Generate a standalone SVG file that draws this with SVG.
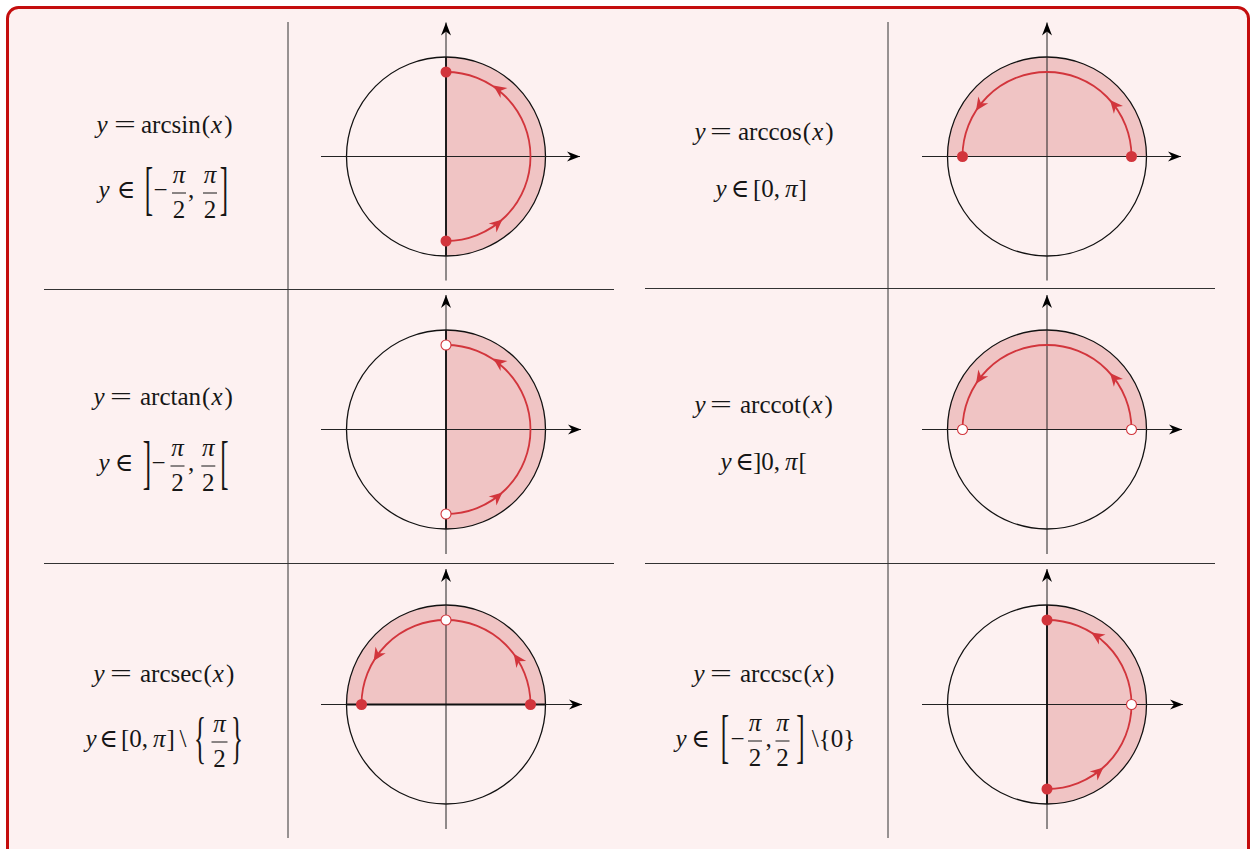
<svg xmlns="http://www.w3.org/2000/svg" width="1251" height="849" viewBox="0 0 1251 849">
<defs>
<style>
.tx{font-family:"Liberation Serif","DejaVu Serif",serif;font-size:25px;fill:#161616}
.it{font-style:italic}
.m{text-anchor:middle}
.bar{stroke:#161616;stroke-width:1}
.grid{stroke:#333;stroke-width:1}
.sec{fill:#f0c4c4}
.circ{fill:none;stroke:#111;stroke-width:1.3}
.ax{stroke:#222;stroke-width:1;marker-end:url(#axh)}
.dia{stroke:#111;stroke-width:1.8}
.arc{fill:none;stroke:#d2353c;stroke-width:1.8}
.dot{fill:#d2353c}
.odot{fill:#fff;stroke:#d2353c;stroke-width:1.1}
</style>
<marker id="axh" viewBox="-14 -6 15 12" refX="0" refY="0" markerWidth="15" markerHeight="12" markerUnits="userSpaceOnUse" orient="auto"><path d="M0,0 L-13,-5 L-9,0 L-13,5 Z" fill="#000"/></marker>
<path id="rah" d="M2,0 L-11,-6 L-7,0 L-11,6 Z" fill="#d2353c"/>
</defs>
<rect id="frame" x="7.5" y="7.5" width="1241" height="900" rx="11" fill="#fdf1f1" stroke="#c40d0d" stroke-width="3"/>

<g id="table-lines">
<line class="grid" x1="288" y1="22" x2="288" y2="838"/>
<line class="grid" x1="44" y1="289.5" x2="614" y2="289.5"/>
<line class="grid" x1="44" y1="563.5" x2="614" y2="563.5"/>
<line class="grid" x1="888" y1="22" x2="888" y2="838"/>
<line class="grid" x1="645" y1="288.5" x2="1215" y2="288.5"/>
<line class="grid" x1="645" y1="563.5" x2="1215" y2="563.5"/>
</g>

<!-- arcsin -->
<g id="arcsin-label">
<text class="tx it m" x="102" y="133">y</text>
<text class="tx m" transform="translate(125,133) scale(1.55,1)">=</text>
<text class="tx" x="141" y="133">arcsin<tspan dx="1">(</tspan><tspan class="it" dx="1">x</tspan><tspan dx="2">)</tspan></text>
<text class="tx it m" x="104" y="198">y</text>
<text class="tx m" x="126" y="198">∈</text>
<text class="tx m" transform="translate(149,207.5) scale(1,2.38)">[</text>
<text class="tx m" x="160.5" y="198">−</text>
<text class="tx it m" x="179" y="182.5">π</text>
<line class="bar" x1="172" y1="193" x2="186" y2="193"/>
<text class="tx m" x="179" y="218">2</text>
<text class="tx m" x="191" y="198">,</text>
<text class="tx it m" x="210" y="182.5">π</text>
<line class="bar" x1="203" y1="193" x2="217" y2="193"/>
<text class="tx m" x="210" y="218">2</text>
<text class="tx m" transform="translate(224,207.5) scale(1,2.38)">]</text>
</g>
<g id="arcsin-circle">
<path class="sec" d="M446,57 A99.5,99.5 0 0 1 446,256 Z"/>
<circle class="circ" cx="446" cy="156.5" r="99.5"/>
<line class="ax" x1="321" y1="156.5" x2="580" y2="156.5"/>
<line class="ax" x1="446" y1="280.5" x2="446" y2="22.5"/>
<line class="dia" x1="446" y1="57" x2="446" y2="256"/>
<path class="arc" d="M446,241 A84.5,84.5 0 0 0 446,72"/>
<use href="#rah" transform="translate(500.9,220.8) rotate(-40.5)"/>
<use href="#rah" transform="translate(495,86.7) rotate(-145)"/>
<circle class="dot" cx="446" cy="72" r="5.5"/>
<circle class="dot" cx="446" cy="241" r="5.5"/>
</g>

<!-- arccos -->
<g id="arccos-label">
<text class="tx it m" x="700" y="140">y</text>
<text class="tx m" transform="translate(721,140) scale(1.55,1)">=</text>
<text class="tx" x="738" y="140">arccos<tspan dx="1">(</tspan><tspan class="it" dx="1">x</tspan><tspan dx="2">)</tspan></text>
<text class="tx it m" x="721" y="197">y</text>
<text class="tx m" x="740" y="197">∈</text>
<text class="tx" x="753" y="197">[0,<tspan class="it" dx="5">π</tspan><tspan dx="1">]</tspan></text>
</g>
<g id="arccos-circle">
<path class="sec" d="M947.5,156.5 A99.5,99.5 0 0 1 1146.5,156.5 Z"/>
<circle class="circ" cx="1047" cy="156.5" r="99.5"/>
<line class="ax" x1="922" y1="156.5" x2="1181" y2="156.5"/>
<line class="ax" x1="1047" y1="280.5" x2="1047" y2="22.5"/>
<path class="arc" d="M1131.5,156.5 A84.5,84.5 0 0 0 962.5,156.5"/>
<use href="#rah" transform="translate(1111.3,101.6) rotate(-130.5)"/>
<use href="#rah" transform="translate(977.1,109) rotate(124.2)"/>
<circle class="dot" cx="962.5" cy="156.5" r="5.5"/>
<circle class="dot" cx="1131.5" cy="156.5" r="5.5"/>
</g>

<!-- arctan -->
<g id="arctan-label">
<text class="tx it m" x="99" y="405">y</text>
<text class="tx m" transform="translate(121,405) scale(1.55,1)">=</text>
<text class="tx" x="140" y="405">arctan<tspan dx="1">(</tspan><tspan class="it" dx="1">x</tspan><tspan dx="2">)</tspan></text>
<text class="tx it m" x="104" y="471">y</text>
<text class="tx m" x="124" y="471">∈</text>
<text class="tx m" transform="translate(147,481.5) scale(1,2.38)">]</text>
<text class="tx m" x="158.5" y="471">−</text>
<text class="tx it m" x="177.5" y="455.5">π</text>
<line class="bar" x1="170.5" y1="466" x2="184.5" y2="466"/>
<text class="tx m" x="177.5" y="491">2</text>
<text class="tx m" x="191" y="471">,</text>
<text class="tx it m" x="208.3" y="455.5">π</text>
<line class="bar" x1="201.3" y1="466" x2="215.3" y2="466"/>
<text class="tx m" x="208.3" y="491">2</text>
<text class="tx m" transform="translate(224.5,481.5) scale(1,2.38)">[</text>
</g>
<g id="arctan-circle">
<path class="sec" d="M446,330 A99.5,99.5 0 0 1 446,529 Z"/>
<circle class="circ" cx="446" cy="429.5" r="99.5"/>
<line class="ax" x1="321" y1="429.5" x2="581" y2="429.5"/>
<line class="ax" x1="446" y1="554" x2="446" y2="295"/>
<line class="dia" x1="446" y1="330" x2="446" y2="529"/>
<path class="arc" d="M446,514 A84.5,84.5 0 0 0 446,345"/>
<use href="#rah" transform="translate(500.9,493.8) rotate(-40.5)"/>
<use href="#rah" transform="translate(495,359.7) rotate(-145)"/>
<circle class="odot" cx="446" cy="345" r="5"/>
<circle class="odot" cx="446" cy="514" r="5"/>
</g>

<!-- arccot -->
<g id="arccot-label">
<text class="tx it m" x="700" y="413">y</text>
<text class="tx m" transform="translate(721,413) scale(1.55,1)">=</text>
<text class="tx" x="740" y="413">arccot<tspan dx="1">(</tspan><tspan class="it" dx="1">x</tspan><tspan dx="2">)</tspan></text>
<text class="tx it m" x="726" y="470">y</text>
<text class="tx m" x="744.5" y="470">∈</text>
<text class="tx" x="753" y="470">]0,<tspan class="it" dx="5">π</tspan><tspan dx="1">[</tspan></text>
</g>
<g id="arccot-circle">
<path class="sec" d="M947.5,429.5 A99.5,99.5 0 0 1 1146.5,429.5 Z"/>
<circle class="circ" cx="1047" cy="429.5" r="99.5"/>
<line class="ax" x1="922" y1="429.5" x2="1182" y2="429.5"/>
<line class="ax" x1="1047" y1="554" x2="1047" y2="295"/>
<path class="arc" d="M1131.5,429.5 A84.5,84.5 0 0 0 962.5,429.5"/>
<use href="#rah" transform="translate(1111.3,374.6) rotate(-130.5)"/>
<use href="#rah" transform="translate(977.1,382) rotate(124.2)"/>
<circle class="odot" cx="962.5" cy="429.5" r="5"/>
<circle class="odot" cx="1131.5" cy="429.5" r="5"/>
</g>

<!-- arcsec -->
<g id="arcsec-label">
<text class="tx it m" x="99" y="682">y</text>
<text class="tx m" transform="translate(121,682) scale(1.55,1)">=</text>
<text class="tx" x="140" y="682">arcsec<tspan dx="1">(</tspan><tspan class="it" dx="1">x</tspan><tspan dx="2">)</tspan></text>
<text class="tx it m" x="91" y="747">y</text>
<text class="tx m" x="108.5" y="747">∈</text>
<text class="tx" x="121" y="747">[0,<tspan class="it" dx="5">π</tspan><tspan dx="1">]</tspan></text>
<text class="tx m" x="183" y="747">\</text>
<text class="tx m" transform="translate(200,756.8) scale(1,2.25)">{</text>
<text class="tx it m" x="219.5" y="731.5">π</text>
<line class="bar" x1="211.5" y1="742" x2="227.5" y2="742"/>
<text class="tx m" x="219.5" y="767">2</text>
<text class="tx m" transform="translate(237,756.8) scale(1,2.25)">}</text>
</g>
<g id="arcsec-circle">
<path class="sec" d="M346.5,704.5 A99.5,99.5 0 0 1 545.5,704.5 Z"/>
<circle class="circ" cx="446" cy="704.5" r="99.5"/>
<line class="ax" x1="321" y1="704.5" x2="582" y2="704.5"/>
<line class="ax" x1="446" y1="829" x2="446" y2="569"/>
<line class="dia" x1="346.5" y1="704.5" x2="545.5" y2="704.5"/>
<path class="arc" d="M530.5,704.5 A84.5,84.5 0 0 0 361.5,704.5"/>
<use href="#rah" transform="translate(514.9,655.5) rotate(-125.4)"/>
<use href="#rah" transform="translate(374.7,659.2) rotate(122.4)"/>
<circle class="dot" cx="361.5" cy="704.5" r="5.5"/>
<circle class="dot" cx="530.5" cy="704.5" r="5.5"/>
<circle class="odot" cx="446" cy="620" r="5"/>
</g>

<!-- arccsc -->
<g id="arccsc-label">
<text class="tx it m" x="699" y="682">y</text>
<text class="tx m" transform="translate(721,682) scale(1.55,1)">=</text>
<text class="tx" x="740" y="682">arccsc<tspan dx="1">(</tspan><tspan class="it" dx="1">x</tspan><tspan dx="2">)</tspan></text>
<text class="tx it m" x="681" y="746.5">y</text>
<text class="tx m" x="700.5" y="746.5">∈</text>
<text class="tx m" transform="translate(725,756.2) scale(1,2.38)">[</text>
<text class="tx m" x="737.5" y="746.5">−</text>
<text class="tx it m" x="755" y="730.5">π</text>
<line class="bar" x1="748" y1="741" x2="762" y2="741"/>
<text class="tx m" x="755" y="766">2</text>
<text class="tx m" x="768.5" y="746.5">,</text>
<text class="tx it m" x="782.5" y="730.5">π</text>
<line class="bar" x1="775.5" y1="741" x2="789.5" y2="741"/>
<text class="tx m" x="782.5" y="766">2</text>
<text class="tx m" transform="translate(800.5,756.2) scale(1,2.38)">]</text>
<text class="tx" x="811.7" y="746.5">\{0}</text>
</g>
<g id="arccsc-circle">
<path class="sec" d="M1047,605 A99.5,99.5 0 0 1 1047,804 Z"/>
<circle class="circ" cx="1047" cy="704.5" r="99.5"/>
<line class="ax" x1="922" y1="704.5" x2="1183" y2="704.5"/>
<line class="ax" x1="1047" y1="829" x2="1047" y2="569"/>
<line class="dia" x1="1047" y1="605" x2="1047" y2="804"/>
<path class="arc" d="M1047,789 A84.5,84.5 0 0 0 1047,620"/>
<use href="#rah" transform="translate(1101.9,768.8) rotate(-40.5)"/>
<use href="#rah" transform="translate(1093,633.6) rotate(-147)"/>
<circle class="dot" cx="1047" cy="620" r="5.5"/>
<circle class="dot" cx="1047" cy="789" r="5.5"/>
<circle class="odot" cx="1131.5" cy="704.5" r="5"/>
</g>
</svg>
